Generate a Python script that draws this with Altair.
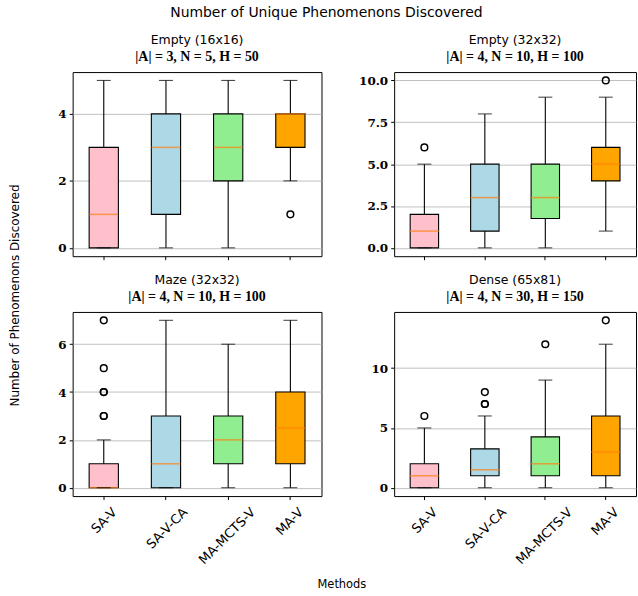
import altair as alt
import pandas as pd

methods = ["SA-V", "SA-V-CA", "MA-MCTS-V", "MA-V"]
box_colors = ["pink", "lightblue", "lightgreen", "orange"]

panel_names = ["Empty (16x16)", "Empty (32x32)", "Maze (32x32)", "Dense (65x81)"]
panel_params = ["|A| = 3, N = 5, H = 50", "|A| = 4, N = 10, H = 100",
                "|A| = 4, N = 10, H = 100", "|A| = 4, N = 30, H = 150"]

# box statistics per panel, one value per method
low = [[0, 0, 0, 2], [0, 0, 0, 1], [0, 0, 0, 0], [0, 0, 0, 0]]
q1 = [[0, 1, 2, 3], [0, 1, 1.75, 4], [0, 0, 1, 1], [0, 1, 1, 1]]
med = [[1, 3, 3, 4], [1, 3, 3, 5], [0, 1, 2, 2.5], [1, 1.5, 2, 3]]
q3 = [[3, 4, 4, 4], [2, 5, 5, 6], [1, 3, 3, 4], [2, 3.25, 4.25, 6]]
high = [[5, 5, 5, 5], [5, 8, 9, 9], [2, 7, 6, 7], [5, 6, 9, 12]]
outliers = [
    [[], [], [], [1]],
    [[6], [], [], [10]],
    [[3, 3, 4, 4, 5, 7], [], [], []],
    [[6], [7, 7, 8], [12], [14]],
]
y_ticks = [[0, 2, 4], [0, 2.5, 5, 7.5, 10], [0, 2, 4, 6], [0, 5, 10]]
y_formats = ["d", ".1f", "d", "d"]
panel_widths = [250, 243, 250, 243]

SANS = "DejaVu Sans"
SERIF = "DejaVu Serif"
MATH = "Liberation Serif"


def make_panel(i):
    box_df = pd.DataFrame({
        "method": methods,
        "low": low[i], "q1": q1[i], "med": med[i], "q3": q3[i], "high": high[i],
    })
    out_rows = []
    for m, vals in zip(methods, outliers[i]):
        for v in vals:
            out_rows.append({"method": m, "value": v})
    out_df = pd.DataFrame(out_rows, columns=["method", "value"])

    vmax = max(max(high[i]), max([v for vs in outliers[i] for v in vs] + [0]))
    margin = 0.05 * vmax
    yscale = alt.Scale(domain=[-margin, vmax + margin], nice=False, zero=False)

    bottom_row = i >= 2
    x_axis = alt.Axis(
        title="Methods" if i == 2 else None,
        labels=bottom_row,
        labelAngle=315,
        labelAlign="right",
        labelBaseline="top",
        labelFont=SANS,
        labelFontSize=13,
        labelColor="black",
        labelPadding=6,
        labelOffset={"expr": "(length(datum.label)*8 - 13)/2.83"},
        tickSize=3.5,
        tickColor="black",
        domain=False,
        grid=False,
        titleFont=SANS,
        titleFontSize=11.5,
        titleFontWeight="normal",
        titleColor="black",
        titleX=270,
        titleY=89,
        titleAlign="center",
        titleBaseline="middle",
    )
    x = alt.X("method:N", sort=methods,
              scale=alt.Scale(domain=methods, paddingInner=0, paddingOuter=0),
              axis=x_axis)

    y_axis_kwargs = dict(
        values=y_ticks[i],
        format=y_formats[i],
        labelFont=SERIF,
        labelFontSize=12,
        labelFontWeight="bold",
        labelColor="black",
        labelPadding=3,
        tickSize=3.5,
        tickColor="black",
        domain=False,
        grid=True,
        gridColor="#b0b0b0",
        gridWidth=0.8,
    )
    if i == 0:
        y_axis_kwargs.update(
            title="Number of Phenomenons Discovered",
            titleFont=SANS, titleFontSize=12, titleFontWeight="normal",
            titleColor="black", titleAngle=270, titleAlign="center",
            titleBaseline="bottom", titleX=-51, titleY=224,
        )
    else:
        y_axis_kwargs.update(title=None)
    y_axis = alt.Axis(**y_axis_kwargs)

    base = alt.Chart(box_df)
    whisker = base.mark_rule(color="black", strokeWidth=1.1).encode(
        x=x, y=alt.Y("low:Q", scale=yscale, axis=y_axis), y2="high:Q")
    box = base.mark_bar(width={"band": 0.47}, stroke="black", strokeWidth=1.1).encode(
        x=x, y=alt.Y("q1:Q", scale=yscale), y2="q3:Q",
        color=alt.Color("method:N", scale=alt.Scale(domain=methods, range=box_colors), legend=None),
    )
    median = base.mark_tick(color="#ff7f0e", thickness=1.5, size=29).encode(
        x=x, y=alt.Y("med:Q", scale=yscale))
    cap_low = base.mark_tick(color="black", thickness=1.1, size=14).encode(
        x=x, y=alt.Y("low:Q", scale=yscale))
    cap_high = base.mark_tick(color="black", thickness=1.1, size=14).encode(
        x=x, y=alt.Y("high:Q", scale=yscale))
    layers = [whisker, box, median, cap_low, cap_high]
    if len(out_df):
        pts = alt.Chart(out_df).mark_point(shape="circle", filled=False, color="black",
                                           size=45, strokeWidth=1.5, opacity=1).encode(
            x=x, y=alt.Y("value:Q", scale=yscale))
        layers.append(pts)

    return alt.layer(*layers).properties(
        width=panel_widths[i],
        height=185,
        title=alt.TitleParams(
            text=panel_names[i],
            subtitle=panel_params[i],
            font=SANS, fontSize=12.5, fontWeight="normal", color="black",
            subtitleFont=MATH, subtitleFontSize=14, subtitleFontWeight="bold",
            subtitleColor="black", subtitlePadding=4, offset=8, anchor="middle",
        ),
    )


panels = [make_panel(i) for i in range(4)]

chart = alt.concat(
    *panels, columns=2, spacing={"row": 56, "column": 73}, bounds="flush",
    title=alt.TitleParams(
        text="Number of Unique Phenomenons Discovered",
        font=SANS, fontSize=14, fontWeight="normal", color="black",
        anchor="middle", offset=13, dx=4,
    ),
).properties(
    padding={"left": 8, "top": 5, "right": 1, "bottom": 7},
    background="white",
).configure_view(stroke="black", strokeWidth=1).resolve_scale(y="independent", x="independent")

chart.save("out.html", embed_options={"renderer": "svg", "actions": False})
